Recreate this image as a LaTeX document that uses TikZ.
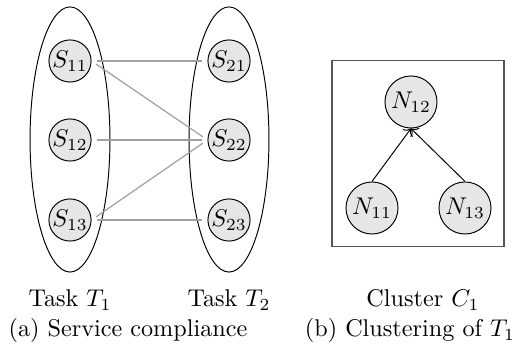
\documentclass[tikz,border=0pt]{standalone}
\usepackage{tikz}
\usetikzlibrary{arrows.meta,positioning,shapes.geometric}
\definecolor{nodegrey}{RGB}{230,230,230}
\definecolor{linkgrey}{RGB}{160,160,160}
\definecolor{framegrey}{RGB}{85,85,85}
\tikzset{
  base/.style={font=\normalsize, inner sep=0pt},
  svc/.style={base, circle, draw=black, fill=nodegrey, minimum size=17.4pt},
  nd/.style={base, circle, draw=black, fill=nodegrey, minimum size=21.5pt},
  task/.style={ellipse, draw=black, inner sep=0pt, minimum width=33pt, minimum height=109.5pt},
  frame/.style={rectangle, draw=framegrey, line width=0.6pt, minimum width=71pt, minimum height=76.6pt},
  link/.style={draw=linkgrey, line width=0.5pt, shorten <=2.3pt, shorten >=2.3pt},
  dep/.style={->, draw=black},
  lbl/.style={base, anchor=base},
}

\begin{document}
\begin{tikzpicture}[x=0.413pt,y=-0.413pt]
  \useasboundingbox (0,0) rectangle (516,347);
  % (a) tasks and their services
  \node[task] (t1) at (70,139.5) {};
  \node[task] (t2) at (229,139.5) {};
  \foreach \i/\y in {1/61,2/140,3/220}{
    \node[svc] (s1\i) at (70,\y) {$S_{1\i}$};
    \node[svc] (s2\i) at (229,\y) {$S_{2\i}$};
  }
  \foreach \a/\b in {s11/s21,s11/s22,s12/s22,s13/s22,s13/s23}{\draw[link] (\a.east) -- (\b.west);}
  % (b) cluster
  \node[frame] (c1) at (418,153.5) {};
  \node[nd] (n12) at (411,102) {$N_{12}$};
  \node[nd] (n11) at (372,208) {$N_{11}$};
  \node[nd] (n13) at (465,208) {$N_{13}$};
  \foreach \a in {n11,n13}{\draw[dep] (\a.north) -- (n12.south);}
  % labels
  \node[lbl] (lt1) at (70,307) {Task $T_1$};
  \node[lbl] (lt2) at (229,307) {Task $T_2$};
  \node[lbl] (lc1) at (423,307) {Cluster $C_1$};
  \node[lbl] (capa) at (128,337) {(a) Service compliance};
  \node[lbl] (capb) at (410,337) {(b) Clustering of $T_1$};
\end{tikzpicture}
\end{document}
